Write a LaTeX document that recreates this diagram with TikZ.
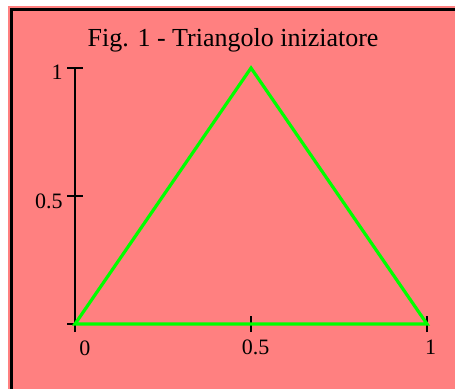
\documentclass[tikz,border=0pt]{standalone}
\usepackage{fontspec}
\setmainfont{Liberation Serif}
\usepackage{xcolor}
\definecolor{plotpink}{HTML}{FF8080}
\definecolor{plotgreen}{HTML}{00FF00}
\usepackage{tikz}
\usetikzlibrary{positioning,calc}

\begin{document}
\begin{tikzpicture}[
  x=176pt, y=128pt,
  frame/.style={line width=1.5pt, black},
  axis/.style={line width=0.9pt, black},
  tri/.style={line width=1.6pt, plotgreen, line join=miter},
  lbl/.style={font=\fontsize{11}{13}\selectfont, inner sep=0pt},
  hdr/.style={font=\fontsize{13}{15}\selectfont, inner sep=0pt},
]
% ---------- canvas and frame
\useasboundingbox (-0.2131,-0.2539) rectangle (1.0795,1.2656);
\fill[plotpink] (-0.1903,-0.2539) rectangle (1.0795,1.2422);
\draw[frame] (-0.1818,-0.2539) -- (-0.1818,1.2266) -- (1.0795,1.2266);

\node[hdr] (ttl) at (0.449,1.109) {Fig. 1 - Triangolo iniziatore};

% ---------- axes with ticks
\coordinate (O) at (0,0);
\coordinate (ytop) at (0,1);
\coordinate (xend) at (1,0);
\draw[axis] (O) -- (ytop);
\draw[axis] (O) -- (xend);
\foreach \t in {0,0.5,1} {
  \draw[axis] (-0.0227,\t) -- (0.0227,\t);
  \draw[axis] (\t,-0.0313) -- (\t,0.0313);
}

% ---------- tick labels
\node[lbl, anchor=east] (y1)  at (-0.034,0.982) {1};
\node[lbl, anchor=east] (y05) at (-0.034,0.480) {0.5};
\node[lbl] (x0)  at (0.028,-0.096) {0};
\node[lbl] (x05) at (0.513,-0.092) {0.5};
\node[lbl] (x1)  at (1.010,-0.092) {1};

% ---------- the initiator triangle
\coordinate (A) at (0,0);
\coordinate (B) at (0.5,1);
\coordinate (C) at (1,0);
\draw[tri] (A) -- (B) -- (C) -- cycle;
\end{tikzpicture}
\end{document}
